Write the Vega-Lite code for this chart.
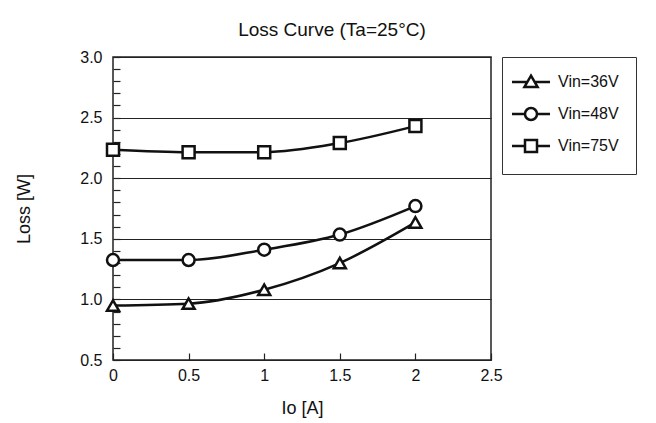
{
  "$schema": "https://vega.github.io/schema/vega-lite/v6.json",
  "width": 378,
  "height": 303,
  "padding": {"left": 15, "top": 21, "right": 10, "bottom": 5},
  "background": "white",
  "title": {"text": "Loss Curve (Ta=25°C)", "fontSize": 19, "fontWeight": "normal", "color": "#111", "offset": 9, "dx": 30},
  "data": {"values": [
    {"series": "Vin=36V", "io": 0, "loss": 0.95},
    {"series": "Vin=36V", "io": 0.5, "loss": 0.965},
    {"series": "Vin=36V", "io": 1, "loss": 1.08},
    {"series": "Vin=36V", "io": 1.5, "loss": 1.3},
    {"series": "Vin=36V", "io": 2, "loss": 1.635},
    {"series": "Vin=48V", "io": 0, "loss": 1.325},
    {"series": "Vin=48V", "io": 0.5, "loss": 1.325},
    {"series": "Vin=48V", "io": 1, "loss": 1.41},
    {"series": "Vin=48V", "io": 1.5, "loss": 1.535},
    {"series": "Vin=48V", "io": 2, "loss": 1.77},
    {"series": "Vin=75V", "io": 0, "loss": 2.235},
    {"series": "Vin=75V", "io": 0.5, "loss": 2.215},
    {"series": "Vin=75V", "io": 1, "loss": 2.215},
    {"series": "Vin=75V", "io": 1.5, "loss": 2.29},
    {"series": "Vin=75V", "io": 2, "loss": 2.43}
  ]},
  "encoding": {
    "x": {
      "field": "io", "type": "quantitative", "title": "Io [A]",
      "scale": {"domain": [0, 2.5], "nice": false, "zero": false},
      "axis": {
        "values": [0, 0.5, 1, 1.5, 2, 2.5], "format": "~g",
        "grid": false, "domain": false,
        "tickSize": -7, "tickColor": "#222", "tickWidth": 1.2,
        "labelPadding": 14, "labelFontSize": 16, "labelColor": "#111", "labelFlush": false,
        "titleFontSize": 18, "titleFontWeight": "normal", "titleColor": "#111", "titlePadding": 16
      }
    },
    "y": {
      "field": "loss", "type": "quantitative", "title": "Loss [W]",
      "scale": {"domain": [0.5, 3.0], "nice": false, "zero": false},
      "axis": {
        "values": [0.5, 0.6, 0.7, 0.8, 0.9, 1.0, 1.1, 1.2, 1.3, 1.4, 1.5, 1.6, 1.7, 1.8, 1.9, 2.0, 2.1, 2.2, 2.3, 2.4, 2.5, 2.6, 2.7, 2.8, 2.9, 3.0],
        "labelExpr": "abs(datum.value*2 - round(datum.value*2)) < 0.001 ? format(datum.value, '.1f') : ''",
        "grid": true, "gridColor": "#222", "gridWidth": 1.2,
        "gridOpacity": {"condition": {"test": "abs(datum.value*2 - round(datum.value*2)) < 0.001", "value": 1}, "value": 0},
        "domain": false,
        "tickSize": -7, "tickColor": "#222", "tickWidth": 1.2,
        "labelPadding": 18, "labelFontSize": 16, "labelColor": "#111", "labelFlush": false,
        "titleFontSize": 18, "titleFontWeight": "normal", "titleColor": "#111", "titlePadding": 46
      }
    }
  },
  "layer": [
    {
      "mark": {"type": "line", "interpolate": "monotone", "color": "#111", "strokeWidth": 2.5},
      "encoding": {"detail": {"field": "series"}}
    },
    {
      "mark": {"type": "point", "filled": true, "fill": "white", "stroke": "#111", "strokeWidth": 2.5, "size": 144, "opacity": 1},
      "encoding": {
        "shape": {"field": "series", "type": "nominal",
          "scale": {"domain": ["Vin=36V", "Vin=48V", "Vin=75V"], "range": ["triangle-up", "circle", "square"]},
          "legend": null}
      }
    },
    {
      "transform": [{"filter": "datum.io < 0"}],
      "mark": {"type": "point", "filled": false, "stroke": "#111", "fill": "white", "strokeWidth": 2.5, "size": 144, "opacity": 1},
      "encoding": {
        "shape": {"field": "series", "type": "nominal",
          "scale": {"domain": ["Vin=36V", "Vin=48V", "Vin=75V"], "range": [
            "M0,-1.05L1.1,0.85L-1.1,0.85Z M-3.17,0H-0.61 M0.61,0H3.17",
            "M-1,0A1,1 0 1,0 1,0A1,1 0 1,0 -1,0Z M-3.17,0H-1 M1,0H3.17",
            "M-1,-1H1V1H-1Z M-3.17,0H-1 M1,0H3.17"
          ]},
          "legend": {"title": null}}
      }
    }
  ],
  "resolve": {"scale": {"shape": "independent"}},
  "config": {
    "font": "Liberation Sans",
    "view": {"stroke": "#222", "strokeWidth": 1.5},
    "legend": {
      "orient": "right", "offset": 11, "padding": 17, "symbolOffset": 4, "labelOffset": 19, "rowPadding": 10,
      "labelFontSize": 16, "labelColor": "#111", "strokeColor": "#333", "fillColor": "white",
      "symbolSize": 144, "symbolStrokeWidth": 2.5
    }
  }
}
